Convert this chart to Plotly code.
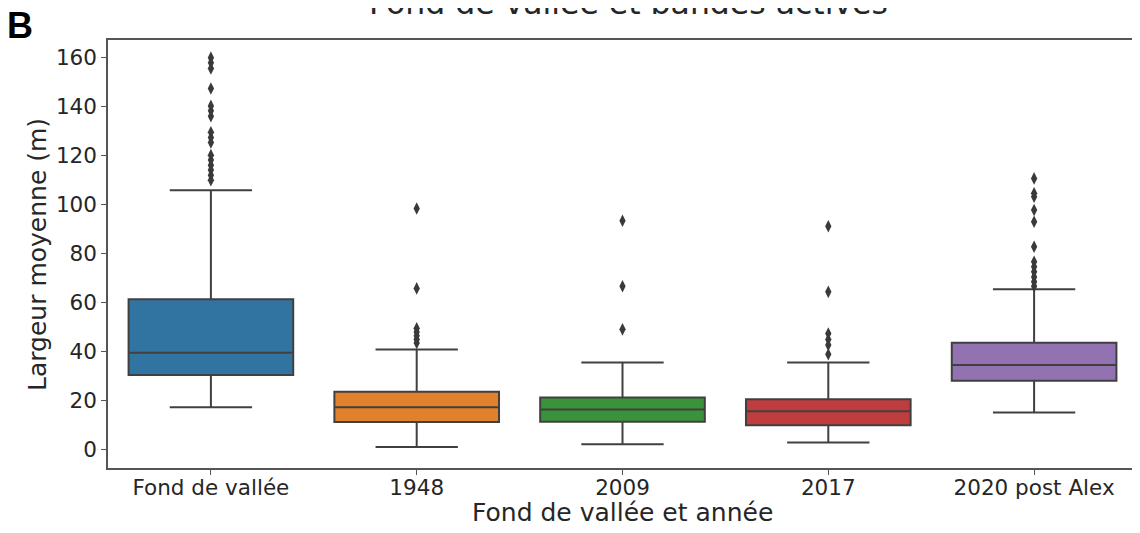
import plotly.graph_objs as go


########### Data ######

categories = ['Fond de vallée', '1948', '2009', '2017', '2020 post Alex']
colors = ['#3274a1', '#e1812c', '#3a923a', '#c03d3e', '#9372b2']

q1 = [30.5, 11.3, 11.4, 10.0, 28.1]
median = [39.5, 17.3, 16.4, 15.7, 34.5]
q3 = [61.4, 23.6, 21.3, 20.6, 43.6]
lower = [17.3, 1.1, 2.2, 2.9, 15.2]
upper = [105.9, 40.9, 35.6, 35.6, 65.5]

outliers = [
    [160.0, 157.9, 155.6, 147.4, 140.3, 138.3, 136.1, 129.5, 127.4, 125.4,
     120.2, 118.2, 116.1, 114.1, 112.0, 110.0],
    [98.4, 65.8, 49.5, 48.0, 46.5, 45.0, 43.5],
    [93.4, 66.7, 49.1],
    [91.2, 64.4, 47.4, 45.0, 42.7, 38.9],
    [110.7, 104.6, 103.2, 97.8, 93.0, 82.8, 76.7, 74.6, 72.6, 70.5, 68.5, 66.7],
]

yticks = [0, 20, 40, 60, 80, 100, 120, 140, 160]

line_gray = '#404040'
text_col = '#262626'
font_family = 'DejaVu Sans'


########### Build the figure ######

fig = go.Figure()

for i, cat in enumerate(categories):
    fig.add_trace(go.Box(
        x=[cat], q1=[q1[i]], median=[median[i]], q3=[q3[i]],
        lowerfence=[lower[i]], upperfence=[upper[i]],
        boxpoints=False, width=0.8, whiskerwidth=0.5,
        fillcolor=colors[i], line=dict(color=line_gray, width=2),
        showlegend=False,
    ))
    fig.add_trace(go.Scatter(
        x=[cat] * len(outliers[i]), y=outliers[i], mode='markers',
        marker=dict(symbol='diamond-tall', size=9, color='#3a3a3a'),
        showlegend=False,
    ))

# the page body adds an 8px margin, so the figure is a bit smaller
fig.update_layout(
    width=1132, height=525,
    margin=dict(l=100, r=1, t=32, b=65),
    paper_bgcolor='white', plot_bgcolor='white',
    boxmode='overlay',
    font=dict(family=font_family, color=text_col, size=21),
    annotations=[
        dict(text='Fond de vallée et bandes actives', xref='paper', yref='paper',
             x=0.506, y=1.0864, xanchor='center', yanchor='middle', showarrow=False,
             font=dict(size=31.5, color=text_col)),
        dict(text='<b>B</b>', xref='paper', yref='paper',
             x=-0.0854, y=1.033, xanchor='center', yanchor='middle', showarrow=False,
             font=dict(family='Liberation Sans', size=36, color='black')),
        dict(text='Largeur moyenne (m)', xref='paper', yref='paper',
             x=-0.069, y=0.5, xanchor='center', yanchor='middle', textangle=-90,
             showarrow=False, font=dict(size=25, color=text_col)),
        dict(text='Fond de vallée et année', xref='paper', yref='paper',
             x=0.5, y=-0.104, xanchor='center', yanchor='middle', showarrow=False,
             font=dict(size=25, color=text_col)),
    ],
)

fig.update_xaxes(
    type='category', categoryorder='array', categoryarray=categories,
    range=[-0.5, 4.5], showgrid=False, zeroline=False,
    showline=True, mirror=True, linecolor='#555555', linewidth=1.5,
    ticks='outside', ticklen=5, tickwidth=1.2, tickcolor='#555555',
    ticklabelstandoff=-6,
    tickfont=dict(size=21.5, color=text_col),
)
fig.update_yaxes(
    range=[-7.5, 167.2], tickvals=yticks, showgrid=False, zeroline=False,
    showline=True, mirror=True, linecolor='#555555', linewidth=1.5,
    ticks='outside', ticklen=5, tickwidth=1.2, tickcolor='#555555',
    tickfont=dict(size=21.5, color=text_col),
)

fig.write_html("out.html")
